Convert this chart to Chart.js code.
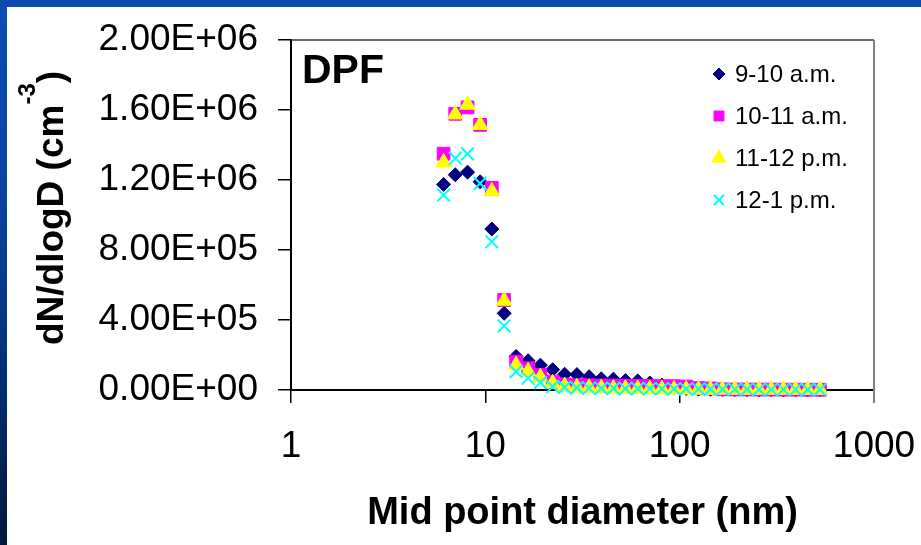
<!DOCTYPE html>
<html lang="en">
<head>
    <meta charset="UTF-8">
    <title>DPF - size distribution</title>
    <script src="https://cdn.jsdelivr.net/npm/chart.js"></script>
    <style>
        body {
            margin: 0;
            background: #ffffff;
            overflow: hidden;
        }

        canvas {
            display: block;
        }
    </style>
</head>
<body>
    <canvas id="sizeChart" width="921" height="545"></canvas>

    <script>
        // mid point diameter of each size channel (nm)
        const diameters = [6.1, 7.0, 8.1, 9.4, 10.8, 12.5, 14.4, 16.6, 19.2, 22.2, 25.6, 29.6, 34.2, 39.5, 45.6, 52.6,
                           60.8, 70.2, 81.0, 93.6, 108, 125, 144, 166, 192, 222, 256, 296, 342, 395, 456, 527];

        // dN/dlogD (cm-3) per sampling hour
        const am9to10 = [1175000, 1230000, 1245000, 1190000, 920000, 438000, 192000, 167000, 142000, 116000, 90000, 88000,
                         76000, 64000, 62000, 54000, 52000, 40000, 28000, 15000, 9000, 5000, 4000, 3000,
                         2500, 2000, 1500, 1200, 1000, 800, 600, 500];
        const am10to11 = [1350000, 1578000, 1615000, 1515000, 1155000, 514000, 162000, 124000, 86000, 48000, 32000, 28000,
                          27000, 26000, 25000, 24000, 24000, 23000, 22000, 22000, 20000, 11000, 9000, 4000,
                          3000, 3000, 2500, 2500, 2000, 2000, 1500, 1500];
        const am11to12 = [1300000, 1575000, 1630000, 1515000, 1135000, 510000, 142000, 106000, 72000, 38000, 22000, 15000,
                          12000, 10000, 8000, 7000, 6000, 5000, 4000, 3000, 2500, 2000, 1500, 1500,
                          1000, 1000, 1000, 1000, 800, 800, 600, 500];
        const pm12to1 = [1114000, 1324000, 1349000, 1181000, 847000, 366000, 105000, 67000, 42000, 19000, 15000, 12000,
                         10000, 9000, 9000, 8000, 8000, 7000, 7000, 6000, 6000, 5000, 5000, 4000,
                         4000, 4000, 3000, 3000, 3000, 3000, 2500, 2500];

        const seriesLabels = ['9-10 a.m.', '10-11 a.m.', '11-12 p.m.', '12-1 p.m.'];
        const xTickValues = [1, 10, 100, 1000];
        const yMax = 2000000;
        const yStep = 400000;

        const FONT = '"Liberation Sans", Arial, sans-serif';

        function toPoints(values) {
            return values.map((v, i) => ({ x: diameters[i], y: v }));
        }

        // 2.00E+06 style labels
        function sciLabel(v) {
            if (Math.abs(v) < 1) return '0.00E+00';
            const e = Math.floor(Math.log10(v) + 1e-9);
            const m = v / Math.pow(10, e);
            return m.toFixed(2) + 'E+' + String(e).padStart(2, '0');
        }

        // white sheet with the blue slide edge on top and left
        const slideFrame = {
            id: 'slideFrame',
            beforeDraw(chart) {
                const ctx = chart.ctx;
                const w = chart.width, h = chart.height;
                ctx.save();
                ctx.fillStyle = '#ffffff';
                ctx.fillRect(0, 0, w, h);
                const g = ctx.createLinearGradient(0, 0, 0, h);
                g.addColorStop(0, '#0b4db3');
                g.addColorStop(0.35, '#0a44a0');
                g.addColorStop(0.75, '#022c68');
                g.addColorStop(1, '#001838');
                ctx.fillStyle = g;
                ctx.fillRect(0, 0, 7, h);
                ctx.fillStyle = '#0b4aaa';
                ctx.fillRect(0, 0, w, 7);
                ctx.restore();
            }
        };

        // top and right edges of the plot area
        const plotFrame = {
            id: 'plotFrame',
            afterDatasetsDraw(chart) {
                const { ctx, chartArea: a } = chart;
                ctx.save();
                ctx.lineWidth = 1.5;
                ctx.strokeStyle = '#3a3a3a';
                ctx.beginPath();
                ctx.moveTo(a.left, a.top);
                ctx.lineTo(a.right, a.top);
                ctx.stroke();
                ctx.strokeStyle = '#808080';
                ctx.lineWidth = 2;
                ctx.beginPath();
                ctx.moveTo(a.right, a.top);
                ctx.lineTo(a.right, a.bottom + 13);
                ctx.stroke();
                ctx.restore();
            }
        };

        // "DPF" tag, y title with superscript, and the legend
        const annotations = {
            id: 'annotations',
            afterDraw(chart) {
                const ctx = chart.ctx;
                ctx.save();
                ctx.fillStyle = '#000000';
                ctx.textAlign = 'left';
                ctx.textBaseline = 'alphabetic';

                ctx.font = 'bold 41px ' + FONT;
                ctx.fillText('DPF', 302, 83);

                // rotated y axis title
                const main = 'dN/dlogD (cm', sup = '-3', close = ')';
                const bigFont = 'bold 37px ' + FONT;
                const supFont = 'bold 24px ' + FONT;
                ctx.font = bigFont;
                const w1 = ctx.measureText(main).width;
                const w3 = ctx.measureText(close).width;
                ctx.font = supFont;
                const w2 = ctx.measureText(sup).width;
                ctx.translate(50, 208);
                ctx.rotate(-Math.PI / 2);
                let x = -(w1 + w2 + w3) / 2;
                ctx.font = bigFont;
                ctx.fillText(main, x, 13);
                x += w1;
                ctx.font = supFont;
                ctx.fillText(sup, x, -15);
                x += w2;
                ctx.font = bigFont;
                ctx.fillText(close, x, 13);
                ctx.setTransform(1, 0, 0, 1, 0, 0);

                // legend
                chart.data.datasets.forEach((ds, i) => {
                    const y = 74 + i * 42;
                    ctx.fillStyle = ds.pointBackgroundColor;
                    ctx.strokeStyle = ds.pointBorderColor;
                    ctx.lineWidth = ds.pointBorderWidth;
                    Chart.helpers.drawPoint(ctx, {
                        pointStyle: ds.pointStyle,
                        radius: ds.legendRadius,
                        borderWidth: ds.pointBorderWidth,
                        rotation: 0
                    }, 719, y);
                    ctx.fillStyle = '#000000';
                    ctx.font = '24px ' + FONT;
                    ctx.textBaseline = 'middle';
                    ctx.fillText(ds.label, 735, y + 1);
                });
                ctx.restore();
            }
        };

        const sizeChart = new Chart(document.getElementById('sizeChart'), {
            type: 'scatter',
            data: {
                datasets: [
                    {
                        label: seriesLabels[0],
                        data: toPoints(am9to10),
                        pointStyle: 'rectRot',
                        pointRadius: 7,
                        legendRadius: 6,
                        pointBackgroundColor: '#000080',
                        pointBorderColor: '#000080',
                        pointBorderWidth: 1,
                        order: 4
                    },
                    {
                        label: seriesLabels[1],
                        data: toPoints(am10to11),
                        pointStyle: 'rect',
                        pointRadius: 9,
                        legendRadius: 7,
                        pointBackgroundColor: '#ff00ff',
                        pointBorderColor: '#ff00ff',
                        pointBorderWidth: 1,
                        order: 3
                    },
                    {
                        label: seriesLabels[2],
                        data: toPoints(am11to12),
                        pointStyle: 'triangle',
                        pointRadius: 9,
                        legendRadius: 8,
                        pointBackgroundColor: '#ffff00',
                        pointBorderColor: '#ffff00',
                        pointBorderWidth: 1,
                        order: 2
                    },
                    {
                        label: seriesLabels[3],
                        data: toPoints(pm12to1),
                        pointStyle: 'crossRot',
                        pointRadius: 9,
                        legendRadius: 7,
                        pointBackgroundColor: '#00ffff',
                        pointBorderColor: '#00ffff',
                        pointBorderWidth: 2,
                        order: 1
                    }
                ]
            },
            options: {
                responsive: false,
                animation: false,
                clip: false,
                layout: {
                    padding: { left: 0, top: 40, right: 47, bottom: 0 }
                },
                plugins: {
                    legend: { display: false },
                    tooltip: { enabled: false }
                },
                scales: {
                    x: {
                        type: 'logarithmic',
                        min: 1,
                        max: 1000,
                        afterBuildTicks: scale => {
                            scale.ticks = xTickValues.map(v => ({ value: v }));
                        },
                        afterFit: scale => {
                            scale.height = 155;
                            scale.paddingLeft = 0;
                            scale.paddingRight = 0;
                        },
                        ticks: {
                            autoSkip: false,
                            maxRotation: 0,
                            padding: 22,
                            color: '#000000',
                            font: { family: FONT, size: 37 },
                            callback: v => String(v)
                        },
                        grid: {
                            drawOnChartArea: false,
                            tickLength: 13,
                            lineWidth: 1.5,
                            color: ctx => ctx.index === xTickValues.length - 1 ? '#808080' : '#000000'
                        },
                        border: { color: '#000000', width: 2 },
                        title: {
                            display: true,
                            text: 'Mid point diameter (nm)',
                            color: '#000000',
                            font: { family: FONT, size: 38, weight: 'bold' },
                            padding: { top: 0, bottom: 9 }
                        }
                    },
                    y: {
                        min: 0,
                        max: yMax,
                        afterFit: scale => {
                            scale.width = 291;
                            scale.paddingTop = 0;
                            scale.paddingBottom = 0;
                        },
                        ticks: {
                            stepSize: yStep,
                            padding: 20,
                            color: '#000000',
                            font: { family: FONT, size: 37 },
                            callback: v => sciLabel(v)
                        },
                        grid: {
                            drawOnChartArea: false,
                            tickLength: 13,
                            lineWidth: 1.5,
                            color: '#000000'
                        },
                        border: { color: '#000000', width: 2 }
                    }
                }
            },
            plugins: [slideFrame, plotFrame, annotations]
        });
    </script>
</body>
</html>
